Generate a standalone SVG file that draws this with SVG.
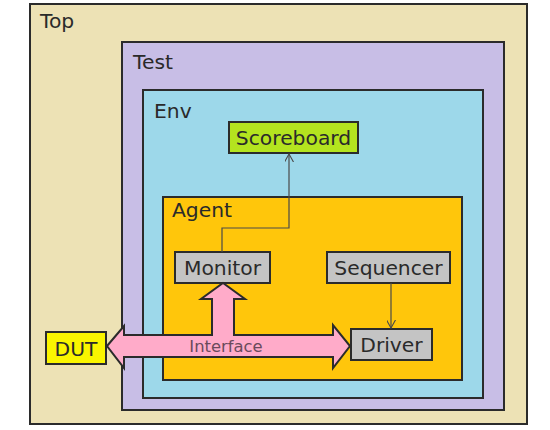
<svg xmlns="http://www.w3.org/2000/svg" width="550" height="430" viewBox="0 0 550 430">
<style>
.box{stroke:#2b2b2b;stroke-width:2}
.lbl{font-family:"DejaVu Sans",Verdana,sans-serif;font-size:20.3px;fill:#2a2a2a}
.conn{fill:none;stroke:#4a4a4a;stroke-width:1.2}
</style>
<defs>
<marker id="open" viewBox="0 0 10 10" refX="9" refY="5" markerWidth="9" markerHeight="9" markerUnits="userSpaceOnUse" orient="auto">
<path d="M0,0 L9,5 L0,10" fill="none" stroke="#4a4a4a" stroke-width="1.2"/>
</marker>
</defs>
<rect width="550" height="430" fill="#ffffff"/>
<g id="top">
<rect class="box" x="30" y="4" width="497" height="420" fill="#ede2b5"/>
<text class="lbl" x="40" y="28">Top</text>
</g>
<g id="test">
<rect class="box" x="122" y="42" width="382" height="368" fill="#c8bee6"/>
<text class="lbl" x="133" y="69">Test</text>
</g>
<g id="env">
<rect class="box" x="143" y="90" width="340" height="308" fill="#9dd8ea"/>
<text class="lbl" x="154" y="118">Env</text>
</g>
<g id="agent">
<rect class="box" x="163" y="197" width="299" height="183" fill="#ffc60b"/>
<text class="lbl" x="172" y="217">Agent</text>
</g>
<g id="scoreboard">
<rect class="box" x="229" y="122" width="129" height="31" fill="#b4e41f"/>
<text class="lbl" x="293.5" y="144.5" text-anchor="middle">Scoreboard</text>
</g>
<g id="monitor">
<rect class="box" x="175" y="252" width="95" height="31" fill="#c4c4c4"/>
<text class="lbl" x="222.5" y="274.5" text-anchor="middle">Monitor</text>
</g>
<g id="sequencer">
<rect class="box" x="327" y="252" width="123" height="31" fill="#c4c4c4"/>
<text class="lbl" x="388.5" y="274.5" text-anchor="middle">Sequencer</text>
</g>
<g id="driver">
<rect class="box" x="351" y="329" width="81" height="31" fill="#c4c4c4"/>
<text class="lbl" x="391.5" y="351.5" text-anchor="middle">Driver</text>
</g>
<g id="dut">
<rect class="box" x="46" y="332" width="60" height="32" fill="#faf500"/>
<text class="lbl" x="76" y="355.5" text-anchor="middle">DUT</text>
</g>
<g id="connectors">
<path class="conn" d="M222,252 V228 H289 V154" marker-end="url(#open)"/>
<path class="conn" d="M391,283 V328" stroke="#5a4718" marker-end="url(#open)"/>
<g id="interface">
<polygon points="107,346 124,326 124,335 212,335 212,299 201,299 223,283 245,299 234,299 234,335 333,335 333,325 350,346 333,368 333,357 124,357 124,368" fill="#ffabc9" stroke="#2b2b2b" stroke-width="2" stroke-linejoin="miter"/>
<text x="226" y="352" text-anchor="middle" font-family="DejaVu Sans,Verdana,sans-serif" font-size="16.4" fill="#6a4a5c">Interface</text>
</g>
</g>
</svg>
